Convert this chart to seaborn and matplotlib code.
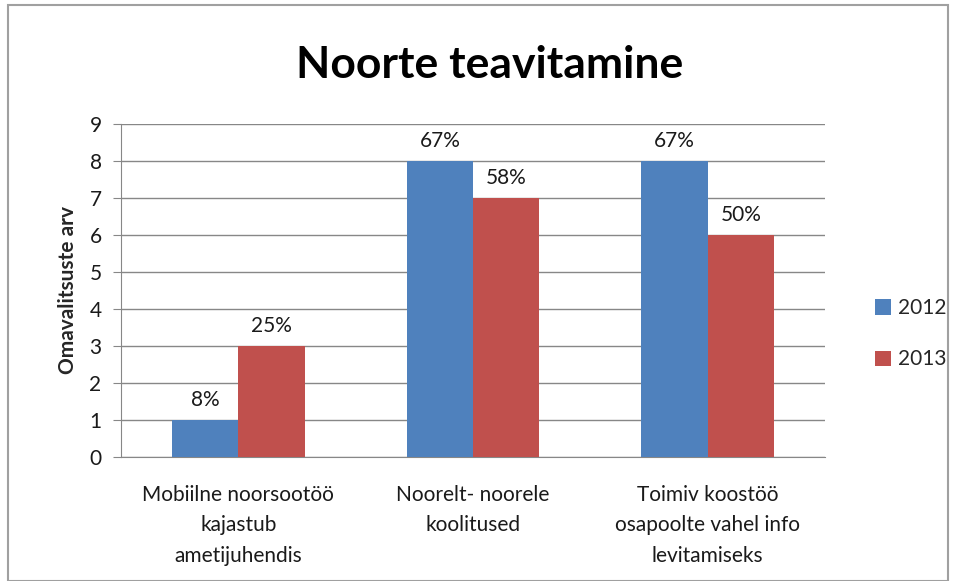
import pandas as pd
import matplotlib.pyplot as plt
import seaborn as sns

categories = ["Mobiilne noorsootöö\nkajastub\nametijuhendis",
              "Noorelt- noorele\nkoolitused",
              "Toimiv koostöö\nosapoolte vahel info\nlevitamiseks"]
years = ["2012", "2013"]
values_2012 = [1, 8, 8]
values_2013 = [3, 7, 6]
labels_2012 = ["8%", "67%", "67%"]
labels_2013 = ["25%", "58%", "50%"]

df = pd.DataFrame({
    "category": categories * 2,
    "year": [years[0]] * 3 + [years[1]] * 3,
    "value": values_2012 + values_2013,
})

sns.set_style("white")
plt.rcParams["font.family"] = ["Lato", "DejaVu Sans"]
fs = 15

fig = plt.figure(figsize=(9.55, 5.81), dpi=100)
ax = fig.add_axes([121 / 955, 1 - 457 / 581, 704 / 955, 333 / 581])

sns.barplot(data=df, x="category", y="value", hue="year",
            palette=["#4F81BD", "#C0504D"], width=0.565,
            saturation=1, linewidth=0, ax=ax, zorder=3)

for cont, labs in zip(ax.containers, [labels_2012, labels_2013]):
    ax.bar_label(cont, labels=labs, padding=7, fontsize=fs, color="#1a1a1a")

ax.set_ylim(0, 9)
ax.set_yticks(range(10))
ax.yaxis.grid(True, color="#878787", linewidth=1, zorder=0)
ax.set_xlabel("")
ax.set_ylabel("Omavalitsuste arv", fontsize=fs, fontweight="bold", labelpad=8.5)
ax.tick_params(axis="both", labelsize=fs, length=6, color="#878787",
               labelcolor="#1a1a1a")
ax.tick_params(axis="y", left=True, pad=8)
ax.tick_params(axis="x", bottom=False, pad=14)
for lab in ax.get_xticklabels():
    lab.set_linespacing(1.65)
for s in ["top", "right"]:
    ax.spines[s].set_visible(False)
for s in ["left", "bottom"]:
    ax.spines[s].set_color("#878787")

ax.legend(loc="center left", bbox_to_anchor=(1.045, 0.37), frameon=False,
          fontsize=fs, handlelength=0.75, handleheight=0.75,
          handletextpad=0.35, labelspacing=1.5)

fig.text(490 / 955, 1 - 65 / 581, "Noorte teavitamine", ha="center",
         va="center", fontsize=32, fontweight="bold", color="black")

fig.add_artist(plt.Rectangle((8 / 955, 0.0), 940 / 955, 0.992,
                             transform=fig.transFigure, fill=False,
                             edgecolor="#A0A0A0", linewidth=1.5))

fig.savefig("out.png", dpi=100)
